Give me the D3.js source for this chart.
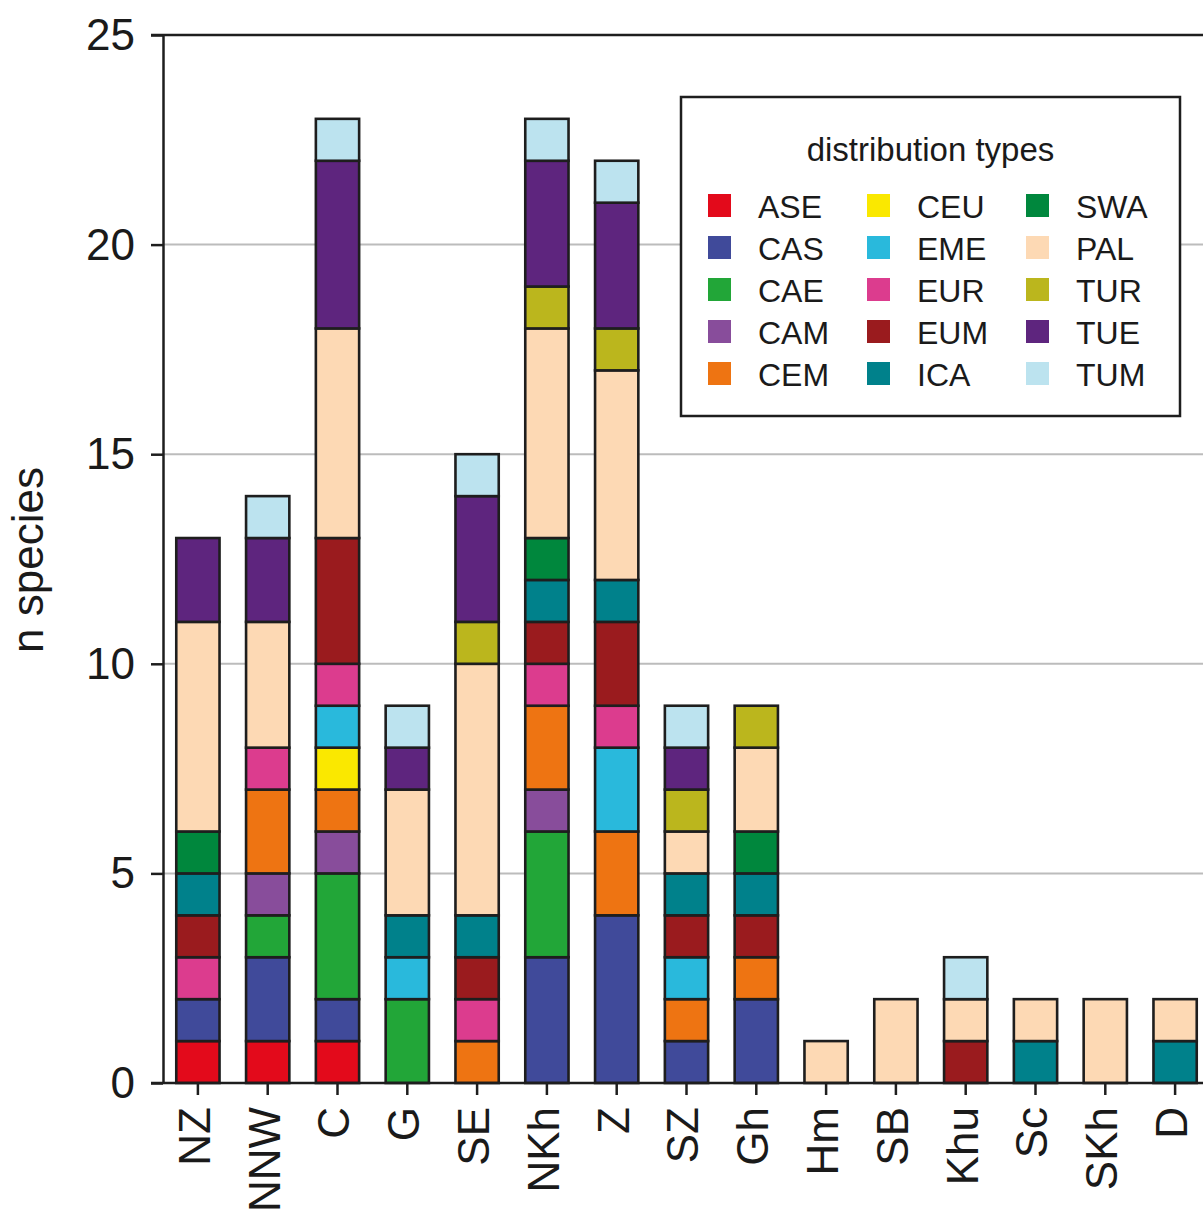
<!DOCTYPE html>
<html>
<head>
<meta charset="utf-8">
<script src="https://cdn.jsdelivr.net/npm/d3@7"></script>
<style>
  body { margin: 0; background: #fff; }
  text { font-family: "Liberation Sans", Arial, sans-serif; fill: #1a1a1a; }
</style>
</head>
<body>
<div id="chart"></div>
<script>
// regions along the x axis
const regions = ["NZ", "NNW", "C", "G", "SE", "NKh", "Z", "SZ", "Gh", "Hm", "SB", "Khu", "Sc", "SKh", "D"]

// distribution types, in stacking order (bottom -> top) and legend order
const types = ["ASE", "CAS", "CAE", "CAM", "CEM", "CEU", "EME", "EUR", "EUM", "ICA", "SWA", "PAL", "TUR", "TUE", "TUM"]
const typeColors = ["#e30a1b", "#404a9a", "#22a638", "#884d9b", "#ee7412", "#fae800", "#29b9dc", "#dc3c8e",
                    "#9a1b1e", "#00818b", "#00873d", "#fdd9b4", "#bbb61d", "#5e257e", "#bce3ef"]

// species counts per region for each type
const ASE = [1, 1, 1, 0, 0, 0, 0, 0, 0, 0, 0, 0, 0, 0, 0]
const CAS = [1, 2, 1, 0, 0, 3, 4, 1, 2, 0, 0, 0, 0, 0, 0]
const CAE = [0, 1, 3, 2, 0, 3, 0, 0, 0, 0, 0, 0, 0, 0, 0]
const CAM = [0, 1, 1, 0, 0, 1, 0, 0, 0, 0, 0, 0, 0, 0, 0]
const CEM = [0, 2, 1, 0, 1, 2, 2, 1, 1, 0, 0, 0, 0, 0, 0]
const CEU = [0, 0, 1, 0, 0, 0, 0, 0, 0, 0, 0, 0, 0, 0, 0]
const EME = [0, 0, 1, 1, 0, 0, 2, 1, 0, 0, 0, 0, 0, 0, 0]
const EUR = [1, 1, 1, 0, 1, 1, 1, 0, 0, 0, 0, 0, 0, 0, 0]
const EUM = [1, 0, 3, 0, 1, 1, 2, 1, 1, 0, 0, 1, 0, 0, 0]
const ICA = [1, 0, 0, 1, 1, 1, 1, 1, 1, 0, 0, 0, 1, 0, 1]
const SWA = [1, 0, 0, 0, 0, 1, 0, 0, 1, 0, 0, 0, 0, 0, 0]
const PAL = [5, 3, 5, 3, 6, 5, 5, 1, 2, 1, 2, 1, 1, 2, 1]
const TUR = [0, 0, 0, 0, 1, 1, 1, 1, 1, 0, 0, 0, 0, 0, 0]
const TUE = [2, 2, 4, 1, 3, 3, 3, 1, 0, 0, 0, 0, 0, 0, 0]
const TUM = [0, 1, 1, 1, 1, 1, 1, 1, 0, 0, 0, 1, 0, 0, 0]

const seriesValues = [ASE, CAS, CAE, CAM, CEM, CEU, EME, EUR, EUM, ICA, SWA, PAL, TUR, TUE, TUM]
const yTicks = [0, 5, 10, 15, 20, 25]

// rows for d3.stack
let table = regions.map(function(r, i){
    let row = {region: r}
    types.forEach(function(t, j){ row[t] = seriesValues[j][i] })
    return row
})

let W = 1203, H = 1212
let plot = {left: 163, top: 35, right: 1210, bottom: 1083}

let svg = d3.select("#chart").append("svg")
    .attr("width", W)
    .attr("height", H)

let x = d3.scaleBand()
    .domain(regions)
    .range([plot.left, plot.right])
    .paddingInner(0.38)
    .paddingOuter(0.19)

let y = d3.scaleLinear()
    .domain([0, 25])
    .range([plot.bottom, plot.top])

let color = d3.scaleOrdinal(types, typeColors)

// grid lines (behind the bars)
svg.append("g")
    .selectAll("line")
    .data(yTicks.filter(d => d > 0 && d < 25))
    .join("line")
    .attr("x1", plot.left).attr("x2", W)
    .attr("y1", d => y(d)).attr("y2", d => y(d))
    .attr("stroke", "#bcbcbc")
    .attr("stroke-width", 2)

// stacked bars
let stacked = d3.stack().keys(types)(table)

svg.append("g")
    .selectAll("g")
    .data(stacked)
    .join("g")
    .attr("fill", d => color(d.key))
    .selectAll("rect")
    .data(d => d.filter(s => s[1] - s[0] > 0))
    .join("rect")
    .attr("x", d => x(d.data.region))
    .attr("width", x.bandwidth())
    .attr("y", d => y(d[1]))
    .attr("height", d => y(d[0]) - y(d[1]))
    .attr("stroke", "#1e1e1e")
    .attr("stroke-width", 2.6)

// y axis
let yAxis = svg.append("g")
    .attr("transform", `translate(${plot.left},0)`)
    .call(d3.axisLeft(y).tickValues(yTicks).tickSize(12).tickPadding(16).tickSizeOuter(0))
yAxis.select(".domain").attr("stroke", "#1e1e1e").attr("stroke-width", 2.5)
yAxis.selectAll(".tick line").attr("stroke", "#1e1e1e").attr("stroke-width", 2.5)
yAxis.selectAll(".tick text")
    .attr("font-size", "44px")
    .attr("dy", "0.33em")
    .style("font-family", "'Liberation Sans', Arial, sans-serif")
    .style("fill", "#1a1a1a")

// top frame line and bottom baseline
svg.append("line")
    .attr("x1", plot.left - 12).attr("x2", W)
    .attr("y1", plot.top).attr("y2", plot.top)
    .attr("stroke", "#1e1e1e").attr("stroke-width", 2.5)
svg.append("line")
    .attr("x1", plot.left - 12).attr("x2", W)
    .attr("y1", plot.bottom).attr("y2", plot.bottom)
    .attr("stroke", "#1e1e1e").attr("stroke-width", 2.5)

// x axis ticks and rotated labels
let xAxis = svg.append("g")
    .attr("transform", `translate(0,${plot.bottom})`)
    .call(d3.axisBottom(x).tickSize(12).tickSizeOuter(0))
xAxis.select(".domain").remove()
xAxis.selectAll(".tick line").attr("stroke", "#1e1e1e").attr("stroke-width", 2.5)
xAxis.selectAll(".tick text")
    .attr("font-size", "44px")
    .attr("text-anchor", "end")
    .attr("transform", "translate(0,24) rotate(-90)")
    .attr("x", 0).attr("y", 0)
    .attr("dy", "0.27em")
    .style("font-family", "'Liberation Sans', Arial, sans-serif")
    .style("fill", "#1a1a1a")

// y axis title
svg.append("text")
    .attr("transform", "translate(43,560) rotate(-90)")
    .attr("text-anchor", "middle")
    .attr("font-size", "44px")
    .text("n species")

// legend
let lg = {x: 681, y: 97, w: 499, h: 319}
let legend = svg.append("g")
legend.append("rect")
    .attr("x", lg.x).attr("y", lg.y)
    .attr("width", lg.w).attr("height", lg.h)
    .attr("fill", "#fff")
    .attr("stroke", "#1e1e1e").attr("stroke-width", 2.5)
legend.append("text")
    .attr("x", lg.x + lg.w / 2).attr("y", 161)
    .attr("text-anchor", "middle")
    .attr("font-size", "33px")
    .text("distribution types")

let items = legend.selectAll("g.item")
    .data(types)
    .join("g")
    .attr("class", "item")
    .attr("transform", (d, i) => `translate(${708 + Math.floor(i / 5) * 159},${194 + (i % 5) * 42})`)
items.append("rect")
    .attr("width", 23).attr("height", 23)
    .attr("fill", d => color(d))
items.append("text")
    .attr("x", 50).attr("y", 24)
    .attr("font-size", "32px")
    .text(d => d)
</script>
</body>
</html>
